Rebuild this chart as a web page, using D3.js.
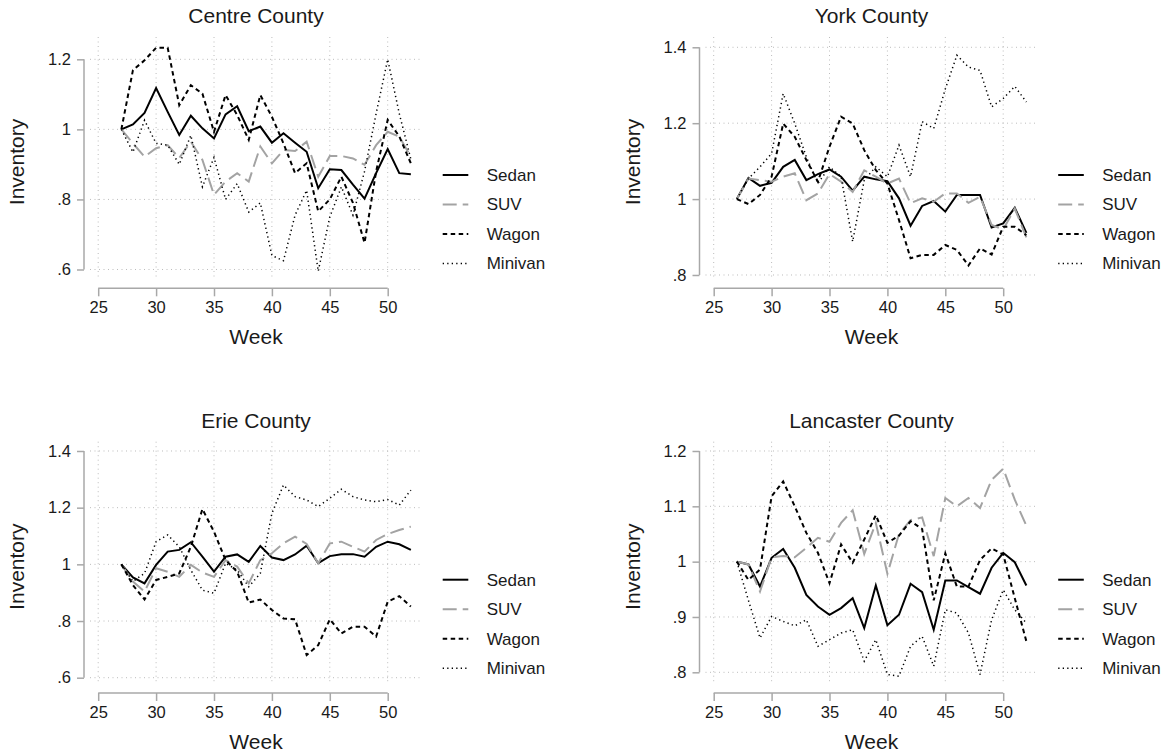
<!DOCTYPE html>
<html>
<head>
<meta charset="utf-8">
<script src="https://cdn.jsdelivr.net/npm/d3@7"></script>
<style>
  html, body { margin: 0; padding: 0; background: #fff; }
  svg { display: block; }
  text { font-family: "Liberation Sans", Arial, Helvetica, sans-serif; fill: #1a1a1a; }
</style>
</head>
<body>
<svg id="chart" width="1167" height="756"></svg>
<script>
// ---------- data ----------
const weeks = [27,28,29,30,31,32,33,34,35,36,37,38,39,40,41,42,43,44,45,46,47,48,49,50,51,52];
const xTicks = [25,30,35,40,45,50];
const seriesNames = ["Sedan","SUV","Wagon","Minivan"];

const centreSedan   = [1.0,1.014,1.047,1.118,1.05,0.984,1.039,1.003,0.974,1.043,1.066,0.995,1.008,0.962,0.989,0.962,0.936,0.832,0.886,0.884,0.842,0.802,0.875,0.944,0.875,0.872];
const centreSUV     = [1.0,0.96,0.922,0.946,0.955,0.918,0.965,0.913,0.813,0.851,0.875,0.851,0.951,0.903,0.941,0.938,0.965,0.865,0.924,0.924,0.917,0.899,0.955,0.993,0.979,0.922];
const centreWagon   = [1.0,1.169,1.197,1.233,1.233,1.069,1.126,1.102,0.993,1.098,1.041,0.97,1.098,1.036,0.96,0.875,0.903,0.766,0.8,0.865,0.79,0.676,0.88,1.027,0.98,0.903];
const centreMinivan = [1.0,0.935,1.026,0.96,0.955,0.9,0.983,0.836,0.92,0.8,0.845,0.764,0.79,0.64,0.625,0.755,0.826,0.595,0.75,0.836,0.755,0.88,1.045,1.2,1.045,0.915];

const yorkSedan   = [1.0,1.056,1.035,1.043,1.085,1.103,1.05,1.066,1.078,1.059,1.022,1.059,1.052,1.047,1.002,0.93,0.982,0.995,0.967,1.011,1.011,1.011,0.925,0.936,0.977,0.911];
const yorkSUV     = [1.0,1.054,1.05,1.046,1.059,1.068,0.997,1.015,1.066,1.046,1.019,1.076,1.059,1.041,1.054,0.989,1.002,0.993,1.015,1.015,0.99,1.006,0.932,0.92,0.975,0.899];
const yorkWagon   = [1.0,0.987,1.011,1.059,1.199,1.164,1.103,1.046,1.138,1.217,1.199,1.129,1.076,1.041,0.945,0.844,0.853,0.853,0.879,0.866,0.825,0.87,0.854,0.927,0.927,0.905];
const yorkMinivan = [1.0,1.054,1.085,1.12,1.278,1.199,1.111,1.041,1.085,1.059,0.888,1.05,1.085,1.059,1.142,1.059,1.204,1.186,1.29,1.379,1.348,1.339,1.243,1.265,1.297,1.256];

const erieSedan   = [1.0,0.954,0.933,0.998,1.045,1.051,1.078,1.027,0.974,1.027,1.035,1.009,1.065,1.024,1.015,1.035,1.066,1.004,1.029,1.036,1.036,1.027,1.062,1.08,1.071,1.051];
const erieSUV     = [1.0,0.939,0.904,0.986,0.974,0.956,0.998,0.971,0.956,1.015,0.992,0.933,1.015,1.039,1.074,1.098,1.072,1.004,1.074,1.08,1.062,1.045,1.086,1.107,1.121,1.133];
const erieWagon   = [1.0,0.927,0.876,0.945,0.956,0.968,1.062,1.195,1.115,1.015,0.974,0.865,0.876,0.839,0.809,0.806,0.68,0.715,0.806,0.756,0.78,0.78,0.745,0.868,0.888,0.851];
const erieMinivan = [1.0,0.94,0.968,1.08,1.104,1.062,0.98,0.909,0.898,1.004,0.98,0.921,0.968,1.18,1.28,1.239,1.227,1.204,1.233,1.265,1.239,1.227,1.221,1.229,1.209,1.262];

const lancasterSedan   = [1.0,0.995,0.955,1.007,1.023,0.989,0.94,0.919,0.904,0.916,0.934,0.88,0.957,0.885,0.904,0.96,0.945,0.877,0.966,0.966,0.954,0.942,0.989,1.016,0.999,0.957];
const lancasterSUV     = [1.0,0.995,0.946,1.008,1.01,1.008,1.025,1.043,1.036,1.07,1.093,1.014,1.07,0.978,1.05,1.075,1.08,1.01,1.115,1.1,1.115,1.097,1.148,1.168,1.112,1.065];
const lancasterWagon   = [1.0,0.967,0.986,1.118,1.145,1.1,1.052,1.016,0.961,1.031,0.998,1.04,1.084,1.034,1.047,1.073,1.059,0.93,1.015,0.955,0.955,1.003,1.024,1.013,0.934,0.856];
const lancasterMinivan = [1.0,0.93,0.862,0.901,0.892,0.884,0.895,0.847,0.859,0.871,0.877,0.82,0.859,0.796,0.793,0.847,0.865,0.811,0.913,0.907,0.871,0.796,0.895,0.949,0.913,0.889];

const centreYTicks = [0.6,0.8,1,1.2];
const yorkYTicks = [0.8,1,1.2,1.4];
const erieYTicks = [0.6,0.8,1,1.2,1.4];
const lancasterYTicks = [0.8,0.9,1,1.1,1.2];

const centreYDomain = [0.570,1.2637];
const yorkYDomain = [0.7868,1.4271];
const erieYDomain = [0.5753,1.4328];
const lancasterYDomain = [0.7776,1.2168];

// ---------- layout ----------
const panels = [
  {title:"Centre County", ox:84,    oy:37,    yTicks:centreYTicks, yDomain:centreYDomain,
   data:[centreSedan,centreSUV,centreWagon,centreMinivan]},
  {title:"York County", ox:699.5, oy:37,    yTicks:yorkYTicks, yDomain:yorkYDomain,
   data:[yorkSedan,yorkSUV,yorkWagon,yorkMinivan]},
  {title:"Erie County", ox:84,    oy:441.7, yTicks:erieYTicks, yDomain:erieYDomain,
   data:[erieSedan,erieSUV,erieWagon,erieMinivan]},
  {title:"Lancaster County", ox:699.5, oy:441.7, yTicks:lancasterYTicks, yDomain:lancasterYDomain,
   data:[lancasterSedan,lancasterSUV,lancasterWagon,lancasterMinivan]}
];

const styles = [
  {stroke:"#000", width:2, dash:null},
  {stroke:"#a3a3a3", width:2, dash:"14,6"},
  {stroke:"#000", width:2, dash:"4.5,3.5"},
  {stroke:"#000", width:1.5, dash:"1.3,3.2"}
];

const PH = 243;      // plot region height
const AXIS_COLOR = "#a8a8a8";
const GRID_COLOR = "#bcbcbc";

const fmt = v => {
  if (v === 1) return "1";
  let s = String(+v.toFixed(2));
  return s.replace(/^0\./, ".");
};

const svg = d3.select("#chart");

panels.forEach(p => {
  const g = svg.append("g");
  const x = d3.scaleLinear().domain([25,50]).range([p.ox + 14.2, p.ox + 303.7]);
  const y = d3.scaleLinear().domain(p.yDomain).range([p.oy + PH, p.oy]);
  const gx0 = p.ox + 6, gx1 = p.ox + 339;

  // grid
  g.append("g").selectAll("line.hg").data(p.yTicks).join("line")
    .attr("x1", gx0).attr("x2", gx1)
    .attr("y1", d => y(d)).attr("y2", d => y(d))
    .attr("stroke", GRID_COLOR).attr("stroke-width", 1).attr("stroke-dasharray", "1,3.5");
  g.append("g").selectAll("line.vg").data(xTicks).join("line")
    .attr("x1", d => x(d)).attr("x2", d => x(d))
    .attr("y1", p.oy).attr("y2", p.oy + PH)
    .attr("stroke", GRID_COLOR).attr("stroke-width", 1).attr("stroke-dasharray", "1,3.5");

  // y axis
  const yAxis = d3.axisLeft(y).tickValues(p.yTicks).tickSize(7).tickPadding(6).tickFormat(fmt);
  const ya = g.append("g").attr("transform", `translate(${p.ox},0)`).call(yAxis);
  ya.select(".domain").remove();
  ya.append("line")
    .attr("x1", 0).attr("x2", 0)
    .attr("y1", y(d3.min(p.yTicks))).attr("y2", y(d3.max(p.yTicks)))
    .attr("stroke", AXIS_COLOR).attr("stroke-width", 1.5);
  ya.selectAll(".tick line").attr("stroke", AXIS_COLOR).attr("stroke-width", 1.5);
  ya.selectAll(".tick text").attr("font-size", 16.5).attr("fill", "#1a1a1a")
    .attr("font-family", '"Liberation Sans", Arial, sans-serif');

  // x axis
  const axisY = p.oy + 251.3;
  const xAxis = d3.axisBottom(x).tickValues(xTicks).tickSize(8).tickPadding(5).tickFormat(d3.format("d"));
  const xa = g.append("g").attr("transform", `translate(0,${axisY})`).call(xAxis);
  xa.select(".domain").remove();
  xa.append("line")
    .attr("x1", x(25)).attr("x2", x(50)).attr("y1", 0).attr("y2", 0)
    .attr("stroke", AXIS_COLOR).attr("stroke-width", 1.5);
  xa.selectAll(".tick line").attr("stroke", AXIS_COLOR).attr("stroke-width", 1.5);
  xa.selectAll(".tick text").attr("font-size", 16.5).attr("fill", "#1a1a1a")
    .attr("font-family", '"Liberation Sans", Arial, sans-serif');

  // titles
  g.append("text").attr("x", p.ox + 172).attr("y", p.oy - 14)
    .attr("text-anchor", "middle").attr("font-size", 21).text(p.title);
  g.append("text").attr("x", p.ox + 172).attr("y", p.oy + 307)
    .attr("text-anchor", "middle").attr("font-size", 21).text("Week");
  g.append("text")
    .attr("transform", `translate(${p.ox - 60},${p.oy + 125}) rotate(-90)`)
    .attr("text-anchor", "middle").attr("font-size", 21).text("Inventory");

  // lines
  const line = d3.line().x((d, i) => x(weeks[i])).y(d => y(d));
  p.data.forEach((vals, si) => {
    const s = styles[si];
    g.append("path").datum(vals)
      .attr("d", line)
      .attr("fill", "none")
      .attr("stroke", s.stroke)
      .attr("stroke-width", s.width)
      .attr("stroke-dasharray", s.dash)
      .attr("stroke-linejoin", "miter");
  });

  // legend
  const lg = g.append("g");
  seriesNames.forEach((name, si) => {
    const s = styles[si];
    const ly = p.oy + 138 + si * 29.5;
    lg.append("line")
      .attr("x1", p.ox + 358.7).attr("x2", p.ox + 384.3)
      .attr("y1", ly).attr("y2", ly)
      .attr("stroke", s.stroke).attr("stroke-width", s.width)
      .attr("stroke-dasharray", s.dash);
    lg.append("text").attr("x", p.ox + 402.7).attr("y", ly)
      .attr("dy", "0.35em").attr("font-size", 17).text(name);
  });
});
</script>
</body>
</html>
